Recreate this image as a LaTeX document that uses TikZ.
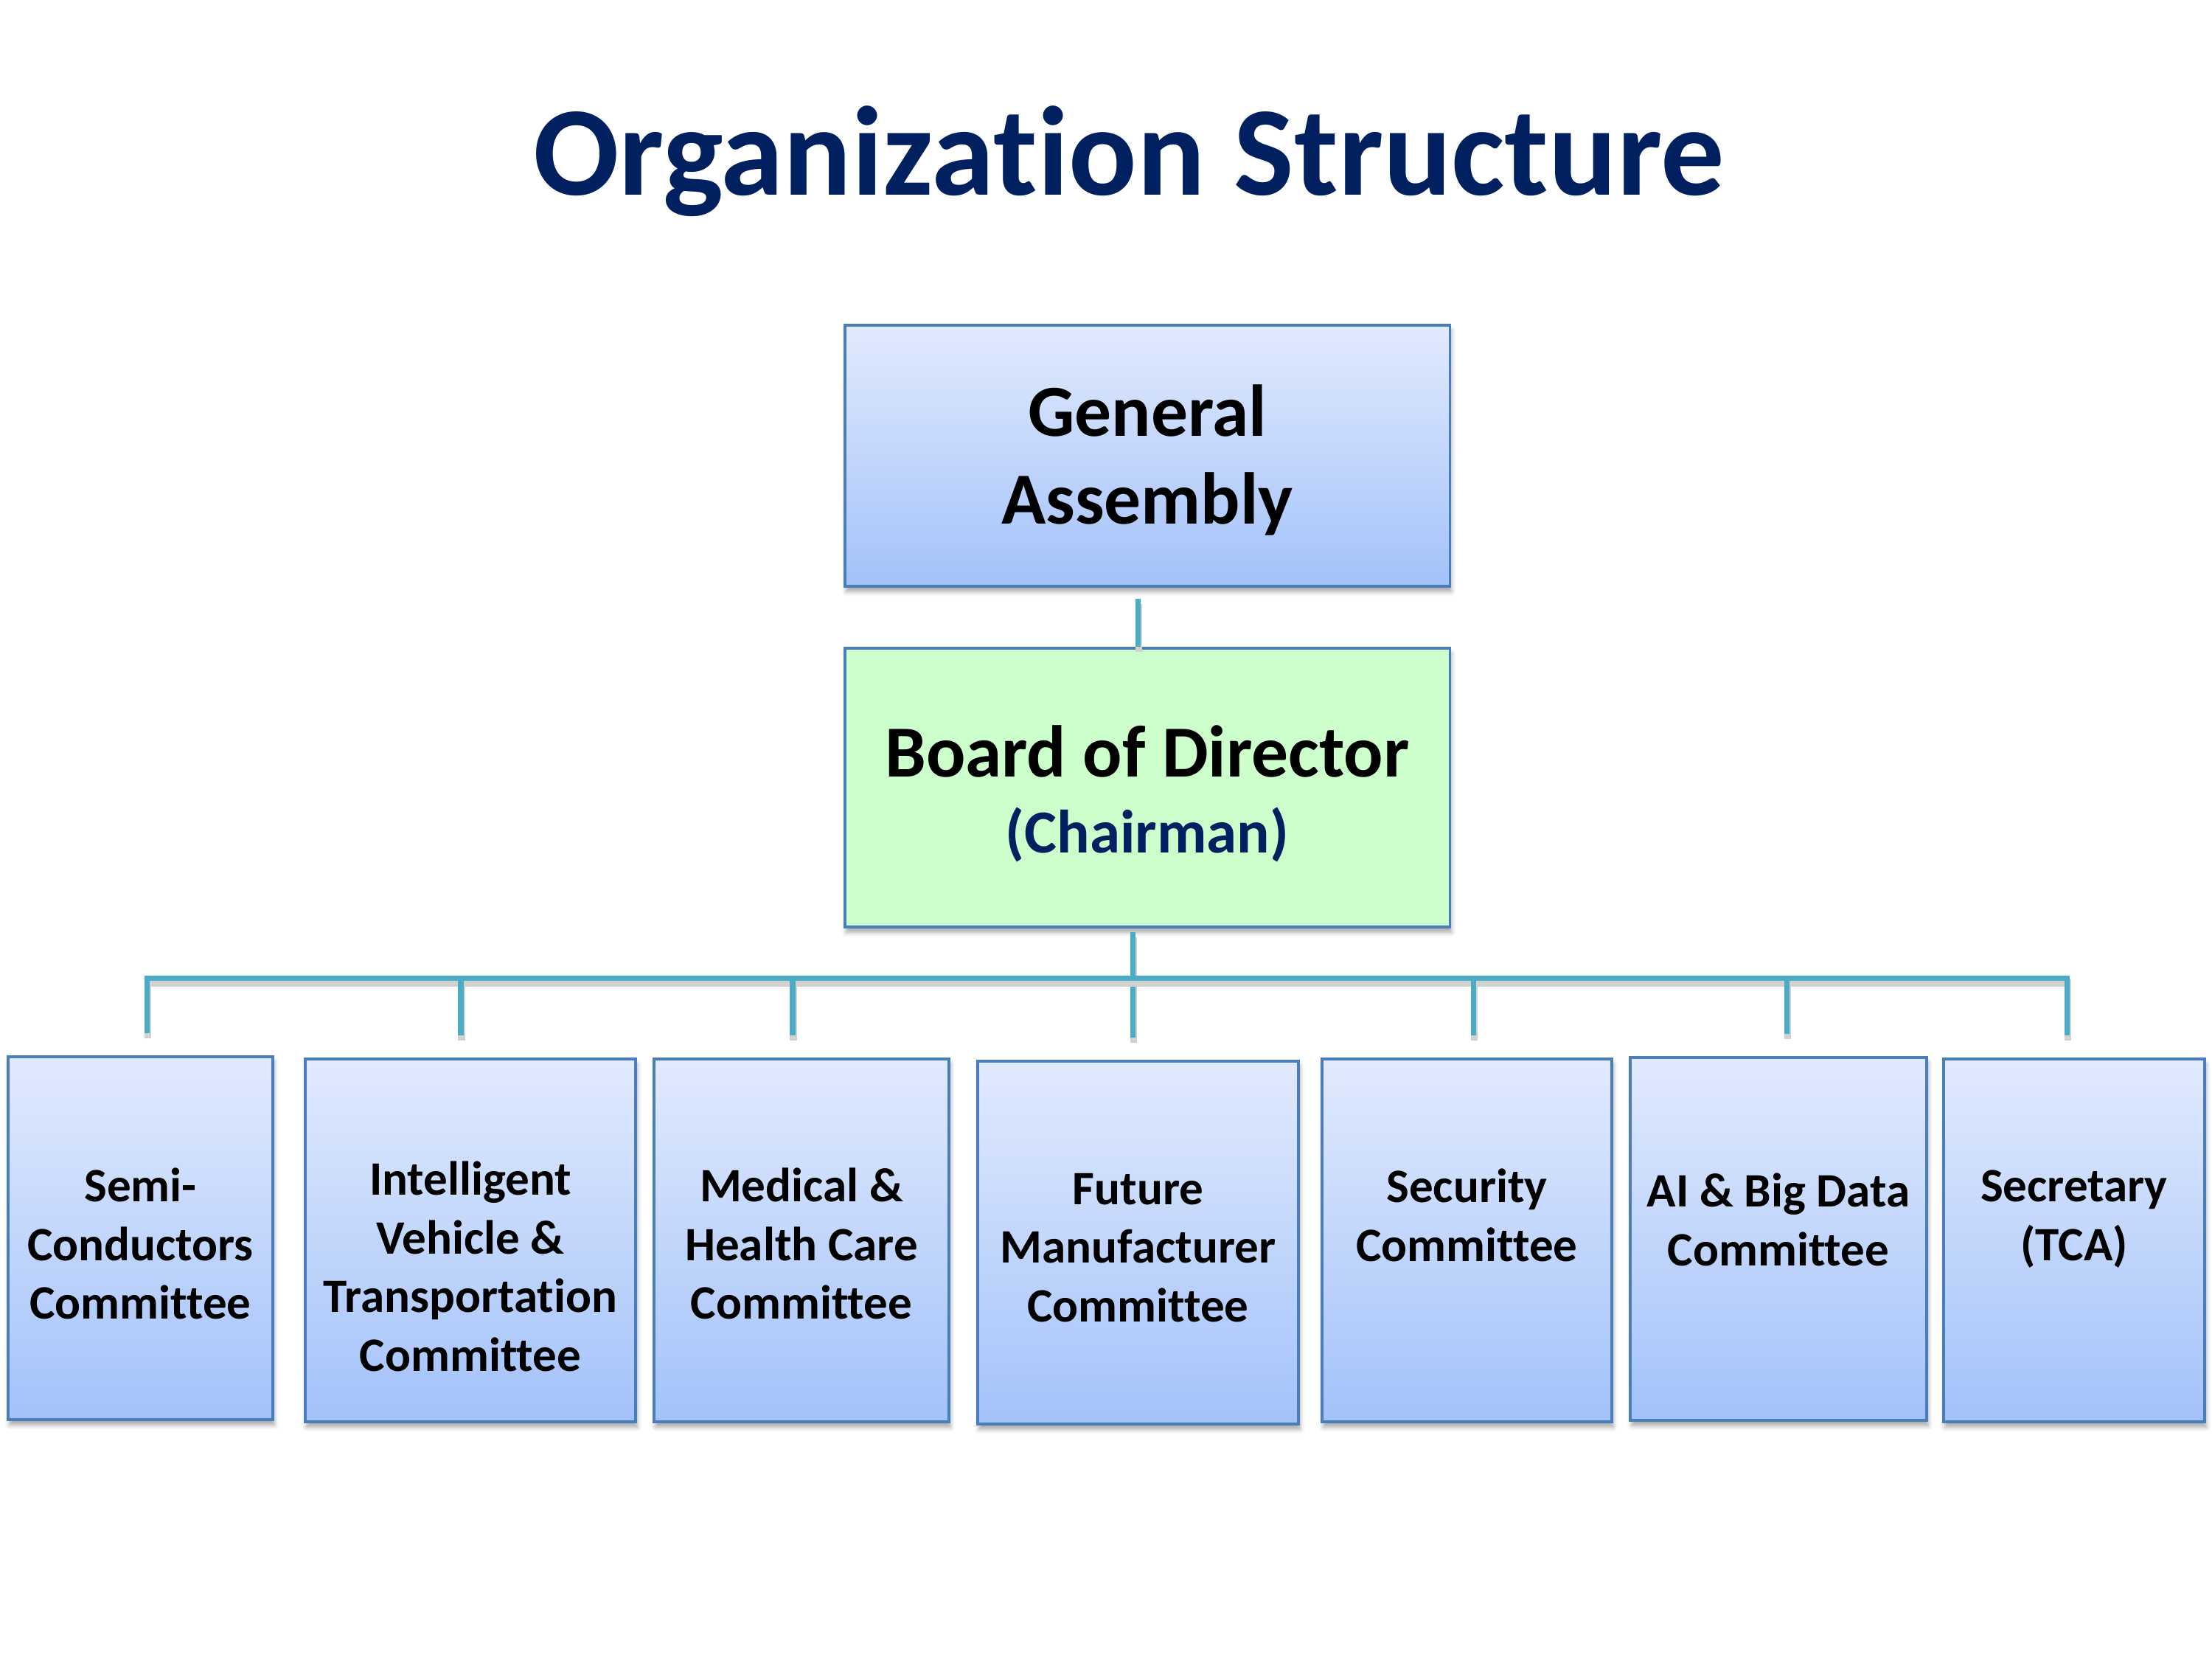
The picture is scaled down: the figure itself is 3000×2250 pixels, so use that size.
\documentclass[tikz,border=0pt]{standalone}
\usepackage{fontspec}
\setmainfont{Carlito}[Ligatures={NoCommon,NoContextual}, Contextuals=NoAlternate]
\usepackage{tikz}
\usetikzlibrary{positioning,shadows.blur}
\definecolor{paleblue}{RGB}{225,234,253}
\definecolor{deepblue}{RGB}{163,194,250}
\definecolor{boxline}{RGB}{74,126,187}
\definecolor{palegreen}{RGB}{204,255,204}
\definecolor{wirec}{RGB}{75,172,198}
\definecolor{navy}{RGB}{0,32,96}
\tikzset{every node/.style={inner sep=0pt},
         box/.style={draw=boxline, line width=1pt, top color=paleblue,
           bottom color=deepblue,
           blur shadow={shadow xshift=0.02cm, shadow yshift=-0.07cm,
             shadow blur radius=0.06cm, shadow opacity=35}},
         greenbox/.style={box, top color=palegreen, bottom color=palegreen},
         wire/.style={draw=wirec, line width=2pt,
           preaction={draw=black!18, line width=2.6pt,
             transform canvas={xshift=0.3pt, yshift=-2pt}}}}
\tikzstyle{combox}=[box, minimum height=4.92cm]
\tikzstyle{bigtext}=[align=center, font=\fontsize{28.3}{33.9}\selectfont\bfseries]
\tikzstyle{comtext}=[align=center, font=\fontsize{18.5}{22.6}\selectfont\bfseries]

\begin{document}
\begin{tikzpicture}[x=0.01cm, y=-0.01cm]
  \useasboundingbox (0,0) rectangle (3000,2250);
  \node (title) [anchor=base, text=navy,
    font=\fontsize{49}{58}\selectfont\bfseries] at (1531,264)
    {Organization Structure};
  % top of the tree
  \node (assembly) [box, minimum width=8.2cm, minimum height=3.54cm] at (1556,618) {};
  \node (assembly-txt) [bigtext, below=0.06cm of assembly.center, anchor=center]
    {General\\Assembly};
  \node (board) [greenbox, minimum width=8.2cm, minimum height=3.78cm] at (1556,1068) {};
  \node (board-txt) [bigtext, below=0.08cm of board.center, anchor=center]
    {Board of Director\\[-0.16cm]{\fontsize{23.6}{28.5}\selectfont\color{navy}(Chairman)}};
  % committees
  \node (semi) [combox, minimum width=3.59cm] at (190.5,1679) {};
  \node (vehicle) [combox, minimum width=4.48cm] at (638,1682) {};
  \node (medical) [combox, minimum width=4.00cm] at (1087,1682) {};
  \node (future) [combox, minimum width=4.35cm] at (1543.5,1685) {};
  \node (security) [combox, minimum width=3.93cm] at (1989.5,1682) {};
  \node (aibig) [combox, minimum width=4.02cm] at (2412,1680) {};
  \node (secretary) [combox, minimum width=3.54cm] at (2813,1682) {};
  \node (semi-txt) [comtext, below=1.52cm of semi.north] {Semi-\\Conductors\\Committee};
  \node (vehicle-txt) [comtext, below=1.40cm of vehicle.north]
    {Intelligent\\Vehicle \&\\Transportation\\Committee};
  \node (medical-txt) [comtext, below=1.49cm of medical.north]
    {Medical \&\\Health Care\\Committee};
  \node (future-txt) [comtext, below=1.53cm of future.north]
    {Future\\Manufacturer\\Committee};
  \node (security-txt) [comtext, below=1.50cm of security.north] {Security\\Committee};
  \node (aibig-txt) [comtext, below=1.58cm of aibig.north] {AI \& Big Data\\Committee};
  \node (secretary-txt) [comtext, below=1.52cm of secretary.north] {Secretary\\(TCA)};
  % connectors
  \coordinate (bus) at (0,1326);
  \coordinate (trunk) at ([xshift=-0.07cm]future.north);
  \draw[wire] ([yshift=-0.15cm]assembly.south -| future.north) -- (board.north -| future.north);
  \draw[wire] ([yshift=-0.05cm]board.south -| trunk) -- ([yshift=0.3cm]trunk);
  \draw[wire] ([xshift=0.09cm,yshift=0.3cm]semi.north) -- ([xshift=0.09cm]semi.north |- bus)
    -- ([xshift=-0.1cm]secretary.north |- bus) -- ([xshift=-0.1cm,yshift=0.3cm]secretary.north);
  \draw[wire] ([xshift=-0.13cm]vehicle.north |- bus) -- ([xshift=-0.13cm,yshift=0.3cm]vehicle.north);
  \draw[wire] ([xshift=-0.12cm]medical.north |- bus) -- ([xshift=-0.12cm,yshift=0.3cm]medical.north);
  \draw[wire] ([xshift=0.09cm]security.north |- bus) -- ([xshift=0.09cm,yshift=0.3cm]security.north);
  \draw[wire] ([xshift=0.11cm]aibig.north |- bus) -- ([xshift=0.11cm,yshift=0.3cm]aibig.north);
\end{tikzpicture}
\end{document}
